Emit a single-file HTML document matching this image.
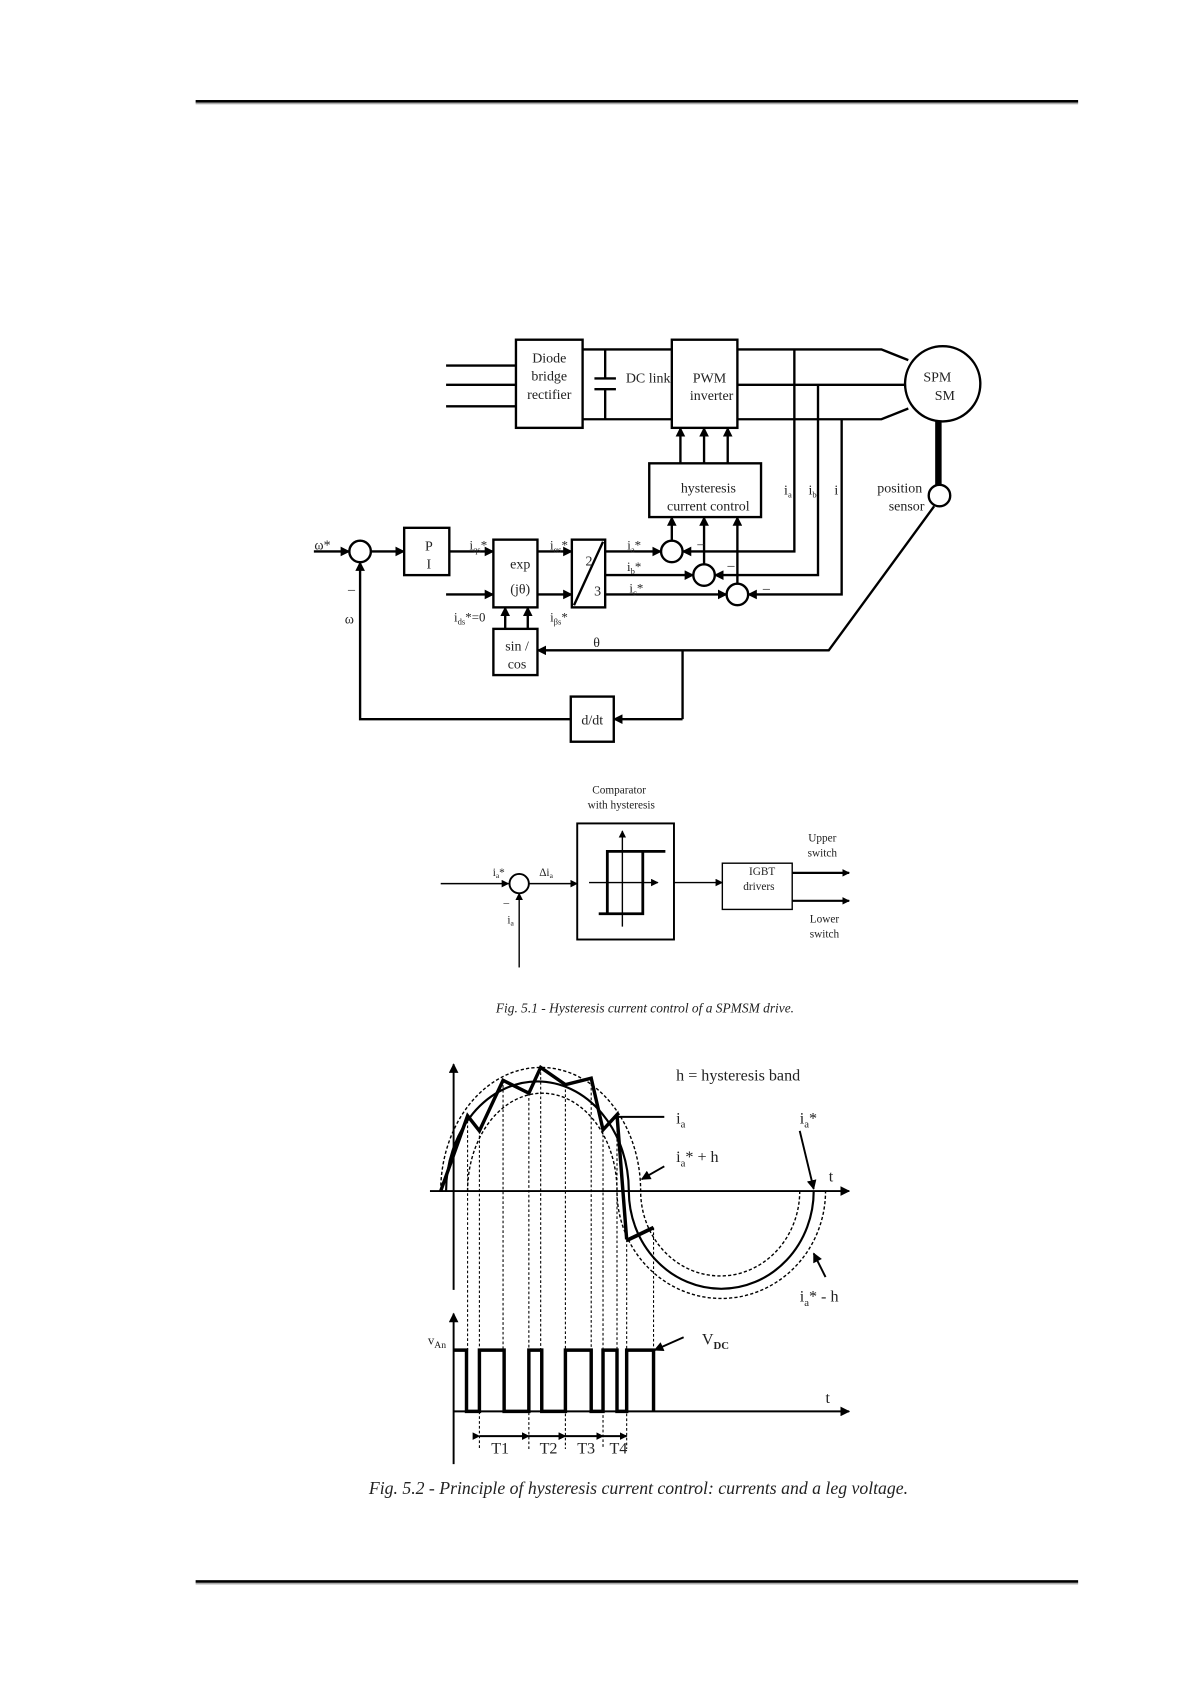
<!DOCTYPE html>
<html><head><meta charset="utf-8"><style>
html,body{margin:0;padding:0;background:#fff;}
svg{display:block;}
text{font-family:"Liberation Serif",serif;fill:#222;}
</style></head><body>
<svg width="1191" height="1685" viewBox="0 0 1108 1567.5" xmlns="http://www.w3.org/2000/svg">
<defs>
<marker id="a" viewBox="0 0 10 10" refX="9" refY="5" markerWidth="9" markerHeight="9" markerUnits="userSpaceOnUse" orient="auto"><path d="M0,0L10,5L0,10z" fill="#000"/></marker>
<marker id="s" viewBox="0 0 10 10" refX="9" refY="5" markerWidth="7" markerHeight="7" markerUnits="userSpaceOnUse" orient="auto"><path d="M0,0L10,5L0,10z" fill="#000"/></marker>
</defs>
<!-- header/footer rules -->
<rect x="182" y="93" width="821" height="2.5" fill="#000"/><rect x="182" y="95.5" width="821" height="1.5" fill="#aaa"/>
<rect x="182" y="1470" width="821" height="2.5" fill="#000"/><rect x="182" y="1472.5" width="821" height="1.5" fill="#aaa"/>

<!-- FIGURE 1 -->
<g stroke="#000" stroke-width="2.2" fill="none">
<line x1="415" y1="340" x2="480" y2="340"/><line x1="415" y1="358" x2="480" y2="358"/><line x1="415" y1="378" x2="480" y2="378"/>
<rect x="480" y="316" width="62" height="82"/>
<rect x="625" y="316" width="61" height="82"/>
<line x1="542" y1="325" x2="625" y2="325"/><line x1="542" y1="390" x2="625" y2="390"/>
<line x1="563" y1="325" x2="563" y2="352"/><line x1="563" y1="362" x2="563" y2="390"/>
<line x1="553" y1="352" x2="573" y2="352"/><line x1="553" y1="362" x2="573" y2="362"/>
<polyline points="686,325 820,325 845,335"/>
<line x1="686" y1="358" x2="842" y2="358"/>
<polyline points="686,390 820,390 845,380"/>
<circle cx="877" cy="357" r="35"/>
<line x1="873" y1="392" x2="873" y2="452" stroke-width="6"/>
<circle cx="874" cy="461" r="10"/>
<polyline points="869,471 771,605 500,605" marker-end="url(#a)"/>
<line x1="635" y1="605" x2="635" y2="669"/>
<line x1="635" y1="669" x2="571" y2="669" marker-end="url(#a)"/>
<rect x="531" y="648" width="40" height="42"/>
<polyline points="531,669 335,669 335,523" marker-end="url(#a)"/>
<polyline points="739,325 739,513 635,513" marker-end="url(#a)"/>
<polyline points="761,358 761,535 665,535" marker-end="url(#a)"/>
<polyline points="783,390 783,553 696,553" marker-end="url(#a)"/>
<rect x="604" y="431" width="104" height="50"/>
<line x1="633" y1="431" x2="633" y2="398" marker-end="url(#a)"/>
<line x1="655" y1="431" x2="655" y2="398" marker-end="url(#a)"/>
<line x1="677" y1="431" x2="677" y2="398" marker-end="url(#a)"/>
<circle cx="625" cy="513" r="10"/><circle cx="655" cy="535" r="10"/><circle cx="686" cy="553" r="10"/>
<line x1="625" y1="503" x2="625" y2="481" marker-end="url(#a)"/>
<line x1="655" y1="525" x2="655" y2="481" marker-end="url(#a)"/>
<line x1="686" y1="543" x2="686" y2="481" marker-end="url(#a)"/>
<rect x="532" y="502" width="31" height="63"/>
<line x1="534" y1="563" x2="561" y2="504"/>
<line x1="563" y1="513" x2="615" y2="513" marker-end="url(#a)"/>
<line x1="563" y1="535" x2="645" y2="535" marker-end="url(#a)"/>
<line x1="563" y1="553" x2="676" y2="553" marker-end="url(#a)"/>
<rect x="459" y="502" width="41" height="63"/>
<line x1="500" y1="513" x2="532" y2="513" marker-end="url(#a)"/>
<line x1="500" y1="553" x2="532" y2="553" marker-end="url(#a)"/>
<line x1="418" y1="513" x2="459" y2="513" marker-end="url(#a)"/>
<line x1="415" y1="553" x2="459" y2="553" marker-end="url(#a)"/>
<rect x="459" y="585" width="41" height="43"/>
<line x1="470" y1="585" x2="470" y2="565" marker-end="url(#a)"/>
<line x1="491" y1="585" x2="491" y2="565" marker-end="url(#a)"/>
<rect x="376" y="491" width="42" height="44"/>
<line x1="292" y1="513" x2="325" y2="513" marker-end="url(#a)"/>
<circle cx="335" cy="513" r="10"/>
<line x1="345" y1="513" x2="376" y2="513" marker-end="url(#a)"/>
</g>
<g font-size="13" text-anchor="middle">
<text x="511" y="337">Diode</text><text x="511" y="354">bridge</text><text x="511" y="371">rectifier</text>
<text x="603" y="356">DC link</text>
<text x="660" y="356">PWM</text><text x="662" y="372">inverter</text>
<text x="872" y="355">SPM</text><text x="879" y="372">SM</text>
<text x="659" y="458">hysteresis</text><text x="659" y="475">current control</text>
<text x="733" y="460">i<tspan font-size="8" dy="3">a</tspan></text>
<text x="756" y="460">i<tspan font-size="8" dy="3">b</tspan></text>
<text x="778" y="460">i</text>
<text text-anchor="end" x="858" y="458">position</text><text text-anchor="end" x="860" y="475">sensor</text>
<text x="555" y="602">θ</text>
<text x="399" y="512">P</text><text x="399" y="529">I</text>
<text x="484" y="529">exp</text><text x="484" y="552">(jθ)</text>
<text x="548" y="526">2</text><text x="556" y="554">3</text>
<text x="481" y="605">sin /</text><text x="481" y="622">cos</text>
<text x="551" y="674">d/dt</text>
<text x="300" y="511">ω*</text>
<text x="327" y="552">–</text><text x="325" y="580">ω</text>
<text x="445" y="511" font-size="12">i<tspan font-size="8" dy="3">qs</tspan><tspan dy="-3">*</tspan></text>
<text x="520" y="511" font-size="12">i<tspan font-size="8" dy="3">αs</tspan><tspan dy="-3">*</tspan></text>
<text x="520" y="578" font-size="12">i<tspan font-size="8" dy="3">βs</tspan><tspan dy="-3">*</tspan></text>
<text x="437" y="578" font-size="12">i<tspan font-size="8" dy="3">ds</tspan><tspan dy="-3">*=0</tspan></text>
<text x="590" y="511" font-size="12">i<tspan font-size="8" dy="3">a</tspan><tspan dy="-3">*</tspan></text>
<text x="590" y="531" font-size="12">i<tspan font-size="8" dy="3">b</tspan><tspan dy="-3">*</tspan></text>
<text x="592" y="551" font-size="12">i<tspan font-size="8" dy="3">c</tspan><tspan dy="-3">*</tspan></text>
<text x="652" y="510">–</text><text x="680" y="530">–</text><text x="713" y="551">–</text>
</g>

<!-- FIGURE 2 -->
<g stroke="#000" stroke-width="1.3" fill="none">
<line x1="410" y1="822" x2="473" y2="822" marker-end="url(#s)"/>
<circle cx="483" cy="822" r="9" stroke-width="1.8"/>
<line x1="483" y1="900" x2="483" y2="831" marker-end="url(#s)"/>
<line x1="492" y1="822" x2="537" y2="822" marker-end="url(#s)"/>
<rect x="537" y="766" width="90" height="108" stroke-width="1.8"/>
<line x1="579" y1="862" x2="579" y2="773" marker-end="url(#s)"/>
<line x1="548" y1="821" x2="612" y2="821" marker-end="url(#s)"/>
<polyline points="619,792 565,792 565,850" stroke-width="2.6"/>
<polyline points="557,850 598,850 598,792" stroke-width="2.6"/>
<line x1="627" y1="821" x2="672" y2="821" marker-end="url(#s)"/>
<rect x="672" y="803" width="65" height="43"/>
<line x1="737" y1="812" x2="790" y2="812" stroke-width="2" marker-end="url(#s)"/>
<line x1="737" y1="838" x2="790" y2="838" stroke-width="2" marker-end="url(#s)"/>
</g>
<g font-size="10.5" text-anchor="middle">
<text x="576" y="738">Comparator</text><text x="578" y="752">with hysteresis</text>
<text x="464" y="815">i<tspan font-size="7" dy="2">a</tspan><tspan dy="-2">*</tspan></text>
<text x="508" y="815">Δi<tspan font-size="7" dy="2">a</tspan></text>
<text x="471" y="843">–</text><text x="475" y="859">i<tspan font-size="7" dy="2">a</tspan></text>
<text x="709" y="814">IGBT</text><text x="706" y="828">drivers</text>
<text x="765" y="783">Upper</text><text x="765" y="797">switch</text>
<text x="767" y="858">Lower</text><text x="767" y="872">switch</text>
<text x="600" y="942" font-size="12.5" font-style="italic" fill="#333">Fig. 5.1 - Hysteresis current control of a SPMSM drive.</text>
</g>

<!-- FIGURE 3 -->
<g stroke="#000" fill="none">
<line x1="422" y1="1200" x2="422" y2="990" stroke-width="1.8" marker-end="url(#a)"/>
<line x1="422" y1="1362" x2="422" y2="1222" stroke-width="1.8" marker-end="url(#a)"/>
<line x1="400" y1="1108" x2="790" y2="1108" stroke-width="1.8" marker-end="url(#a)"/>
<line x1="422" y1="1313" x2="790" y2="1313" stroke-width="1.8" marker-end="url(#a)"/>
<path d="M410,1108 A93,115 0 0 1 596,1108 A74,79 0 0 0 744,1108" stroke-width="1.3" stroke-dasharray="3,2"/>
<path d="M415,1108 A85,102 0 0 1 585,1108 A86,91 0 0 0 757,1108" stroke-width="2"/>
<path d="M435,1108 A69.5,91 0 0 1 574,1108 A97,100 0 0 0 768,1108" stroke-width="1.3" stroke-dasharray="3,2"/>
<polyline points="410,1108 435,1038 446,1052 468,1005 492,1017 503,993 526,1009 550,1003 561,1051 574,1037 583,1153" stroke-width="3.2" stroke-linejoin="miter"/>
<line x1="583" y1="1154" x2="608" y2="1142" stroke-width="3.5"/>
<g stroke-width="1" stroke-dasharray="2.5,2">
<line x1="435" y1="1038" x2="435" y2="1256"/><line x1="446" y1="1052" x2="446" y2="1348"/>
<line x1="468" y1="1005" x2="468" y2="1256"/><line x1="492" y1="1017" x2="492" y2="1348"/>
<line x1="503" y1="993" x2="503" y2="1256"/><line x1="526" y1="1009" x2="526" y2="1348"/>
<line x1="550" y1="1003" x2="550" y2="1256"/><line x1="561" y1="1051" x2="561" y2="1348"/>
<line x1="574" y1="1037" x2="574" y2="1256"/><line x1="583" y1="1153" x2="583" y2="1348"/>
<line x1="608" y1="1142" x2="608" y2="1256"/>
</g>
<path d="M422,1256 H434 V1313 H446 V1256 H469 V1313 H492 V1256 H504 V1313 H526 V1256 H550 V1313 H561 V1256 H574 V1313 H583 V1256 H608 V1313" stroke-width="3.2"/>
<line x1="618" y1="1039" x2="574" y2="1039" stroke-width="1.8"/>
<line x1="618" y1="1085" x2="597" y2="1097" stroke-width="1.8" marker-end="url(#a)"/>
<line x1="744" y1="1052" x2="757" y2="1106" stroke-width="1.8" marker-end="url(#a)"/>
<line x1="768" y1="1188" x2="757" y2="1166" stroke-width="1.8" marker-end="url(#a)"/>
<line x1="636" y1="1244" x2="609" y2="1256" stroke-width="1.8" marker-end="url(#a)"/>
<g stroke-width="1.8">
<line x1="446" y1="1336" x2="492" y2="1336" marker-start="url(#s)" marker-end="url(#s)"/>
<line x1="492" y1="1336" x2="526" y2="1336" marker-start="url(#s)" marker-end="url(#s)"/>
<line x1="526" y1="1336" x2="561" y2="1336" marker-start="url(#s)" marker-end="url(#s)"/>
<line x1="561" y1="1336" x2="583" y2="1336" marker-start="url(#s)" marker-end="url(#s)"/>
</g>
</g>
<g font-size="15" fill="#222">
<text x="629" y="1005">h = hysteresis band</text>
<text x="629" y="1045">i<tspan font-size="10" dy="4">a</tspan></text>
<text x="629" y="1081">i<tspan font-size="10" dy="4">a</tspan><tspan dy="-4">* + h</tspan></text>
<text x="744" y="1045">i<tspan font-size="10" dy="4">a</tspan><tspan dy="-4">*</tspan></text>
<text x="744" y="1211">i<tspan font-size="10" dy="4">a</tspan><tspan dy="-4">* - h</tspan></text>
<text x="771" y="1099">t</text><text x="768" y="1305">t</text>
<text x="398" y="1251" font-size="12">v<tspan font-size="9" dy="3">An</tspan></text>
<text x="653" y="1251">V<tspan font-size="10" dy="4" font-weight="bold">DC</tspan></text>
<text x="457" y="1352">T1</text><text x="502" y="1352">T2</text><text x="537" y="1352">T3</text><text x="567" y="1352">T4</text>
<text x="594" y="1390" font-size="16.5" font-style="italic" text-anchor="middle" fill="#333">Fig. 5.2 - Principle of hysteresis current control: currents and a leg voltage.</text>
</g>
</svg>
</body></html>
